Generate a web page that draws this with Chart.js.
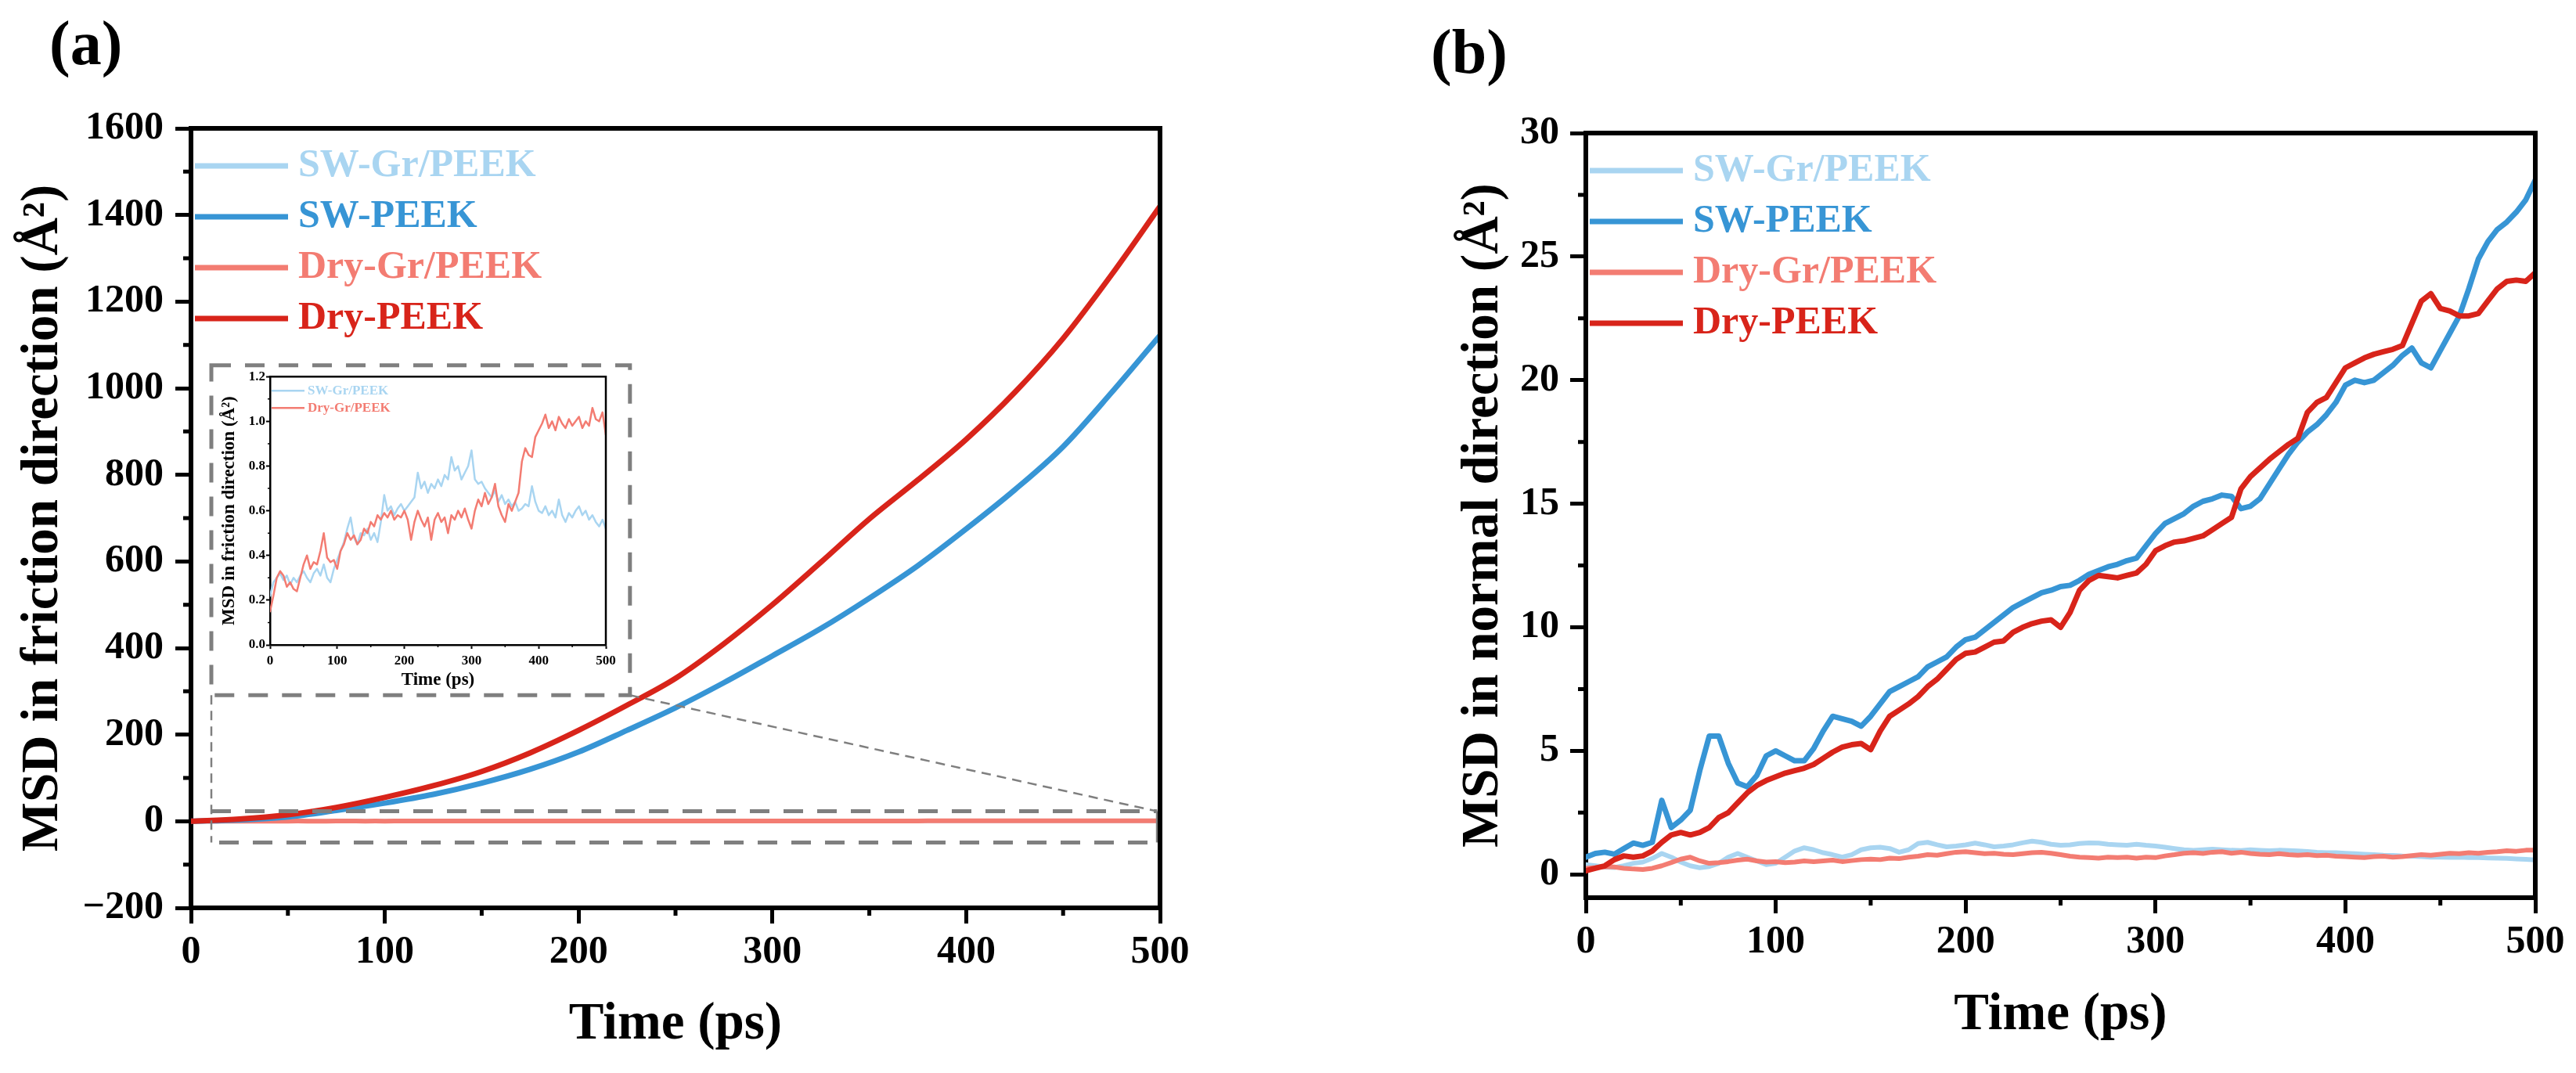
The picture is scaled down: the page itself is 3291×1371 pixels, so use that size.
<!DOCTYPE html>
<html>
<head>
<meta charset="utf-8">
<script src="https://cdn.jsdelivr.net/npm/chart.js@4.4.1/dist/chart.umd.min.js"></script>
<style>
  html, body { margin: 0; padding: 0; background: #fff; }
  #wrap { position: relative; width: 3291px; height: 1371px; overflow: hidden; background: #fff; }
  canvas { position: absolute; }
  #chartA { left: 0; top: 0; width: 1640px; height: 1371px; }
  #chartB { left: 1660px; top: 0; width: 1631px; height: 1371px; }
  #inset { left: 272px; top: 470px; width: 530px; height: 415px; }
</style>
</head>
<body>
<div id="wrap">
  <canvas id="chartA" width="1640" height="1371"></canvas>
  <canvas id="chartB" width="1631" height="1371"></canvas>
  <canvas id="inset" width="530" height="415"></canvas>
</div>
<script>
// series names / colours, in legend order
const seriesNames = ["SW-Gr/PEEK", "SW-PEEK", "Dry-Gr/PEEK", "Dry-PEEK"];
const seriesColors = ["#a9d5f1", "#3795d5", "#f37c72", "#d8241a"];

// time axes (ps)
const timeCoarse = [0, 25, 50, 75, 100, 125, 150, 175, 200, 225, 250, 275, 300, 325, 350, 375, 400, 425, 450, 475, 500];
const timeFine = [0, 5, 10, 15, 20, 25, 30, 35, 40, 45, 50, 55, 60, 65, 70, 75, 80, 85, 90, 95,
  100, 105, 110, 115, 120, 125, 130, 135, 140, 145, 150, 155, 160, 165, 170, 175, 180, 185, 190, 195,
  200, 205, 210, 215, 220, 225, 230, 235, 240, 245, 250, 255, 260, 265, 270, 275, 280, 285, 290, 295,
  300, 305, 310, 315, 320, 325, 330, 335, 340, 345, 350, 355, 360, 365, 370, 375, 380, 385, 390, 395,
  400, 405, 410, 415, 420, 425, 430, 435, 440, 445, 450, 455, 460, 465, 470, 475, 480, 485, 490, 495, 500];

// (a) MSD in friction direction, A^2
const swPeekFriction = [0, 3, 10, 25, 42, 62, 88, 120, 160, 210, 262, 320, 382, 445, 515, 590, 675, 765, 865, 990, 1122];
const dryPeekFriction = [0, 5, 15, 32, 55, 82, 115, 158, 210, 268, 330, 410, 500, 598, 698, 788, 882, 990, 1115, 1262, 1420];
const swGrFriction = [
  0.22, 0.28, 0.30, 0.32, 0.29, 0.31, 0.27, 0.30, 0.28, 0.31,
  0.33, 0.30, 0.28, 0.32, 0.34, 0.31, 0.36, 0.30, 0.28, 0.34,
  0.38, 0.42, 0.46, 0.52, 0.57, 0.48, 0.45, 0.50, 0.49, 0.52,
  0.47, 0.50, 0.46, 0.55, 0.67, 0.60, 0.62, 0.58, 0.61, 0.63,
  0.60, 0.62, 0.64, 0.66, 0.77, 0.70, 0.73, 0.68, 0.72, 0.70,
  0.74, 0.71, 0.76, 0.74, 0.84, 0.78, 0.80, 0.74, 0.77, 0.80,
  0.87, 0.74, 0.72, 0.73, 0.70, 0.68, 0.66, 0.69, 0.64, 0.67,
  0.63, 0.65, 0.62, 0.64, 0.60, 0.61, 0.63, 0.62, 0.71, 0.64,
  0.60, 0.59, 0.62, 0.58, 0.60, 0.57, 0.65, 0.58, 0.55, 0.59,
  0.57, 0.60, 0.62, 0.58, 0.60, 0.56, 0.58, 0.55, 0.53, 0.56,
  0.52];
const dryGrFriction = [
  0.15, 0.22, 0.30, 0.33, 0.31, 0.26, 0.28, 0.25, 0.24, 0.30,
  0.36, 0.40, 0.34, 0.37, 0.36, 0.42, 0.50, 0.39, 0.37, 0.38,
  0.34, 0.42, 0.45, 0.50, 0.47, 0.49, 0.45, 0.47, 0.52, 0.50,
  0.55, 0.53, 0.58, 0.56, 0.59, 0.57, 0.60, 0.56, 0.58, 0.57,
  0.60, 0.56, 0.47, 0.55, 0.60, 0.56, 0.53, 0.57, 0.47, 0.56,
  0.59, 0.55, 0.57, 0.50, 0.58, 0.56, 0.60, 0.57, 0.61, 0.56,
  0.52, 0.60, 0.65, 0.62, 0.68, 0.63, 0.66, 0.72, 0.62, 0.58,
  0.55, 0.63, 0.60, 0.64, 0.68, 0.82, 0.88, 0.85, 0.84, 0.93,
  0.96, 0.99, 1.03, 0.97, 1.00, 0.96, 1.02, 0.99, 0.97, 1.01,
  0.98, 1.00, 1.02, 0.97, 1.00, 0.98, 1.06, 1.01, 1.00, 1.04,
  0.94];

// (b) MSD in normal direction, A^2
const swPeekNormal = [
  0.70, 0.85, 0.90, 0.82, 1.05, 1.27, 1.18, 1.30, 3.00, 1.90,
  2.20, 2.60, 4.20, 5.60, 5.60, 4.50, 3.70, 3.55, 4.00, 4.80,
  5.00, 4.80, 4.60, 4.60, 5.10, 5.80, 6.40, 6.30, 6.20, 6.00,
  6.40, 6.90, 7.40, 7.60, 7.80, 8.00, 8.40, 8.60, 8.80, 9.20,
  9.50, 9.60, 9.90, 10.20, 10.50, 10.80, 11.00, 11.20, 11.40, 11.50,
  11.65, 11.70, 11.90, 12.15, 12.30, 12.45, 12.55, 12.70, 12.80, 13.30,
  13.80, 14.20, 14.40, 14.60, 14.90, 15.10, 15.20, 15.35, 15.30, 14.80,
  14.90, 15.20, 15.80, 16.40, 17.00, 17.50, 17.90, 18.20, 18.60, 19.10,
  19.80, 20.00, 19.90, 20.00, 20.30, 20.60, 21.00, 21.30, 20.70, 20.50,
  21.20, 21.90, 22.60, 23.70, 24.90, 25.60, 26.10, 26.40, 26.80, 27.30,
  28.10];
const dryPeekNormal = [
  0.15, 0.25, 0.35, 0.60, 0.75, 0.70, 0.75, 0.95, 1.30, 1.60,
  1.70, 1.60, 1.70, 1.90, 2.30, 2.50, 2.90, 3.30, 3.60, 3.80,
  3.95, 4.10, 4.20, 4.30, 4.45, 4.70, 4.95, 5.15, 5.25, 5.30,
  5.05, 5.80, 6.40, 6.65, 6.90, 7.20, 7.60, 7.90, 8.30, 8.70,
  8.95, 9.00, 9.20, 9.40, 9.45, 9.80, 10.00, 10.15, 10.25, 10.30,
  10.00, 10.60, 11.50, 11.90, 12.10, 12.05, 12.00, 12.10, 12.20, 12.55,
  13.10, 13.30, 13.45, 13.50, 13.60, 13.70, 13.95, 14.20, 14.45, 15.60,
  16.10, 16.45, 16.80, 17.10, 17.40, 17.65, 18.70, 19.10, 19.30, 19.90,
  20.50, 20.70, 20.90, 21.05, 21.15, 21.25, 21.40, 22.30, 23.20, 23.50,
  22.90, 22.80, 22.60, 22.60, 22.70, 23.20, 23.70, 24.00, 24.05, 24.00,
  24.35];
const swGrNormal = [
  0.40, 0.35, 0.30, 0.28, 0.35, 0.45, 0.50, 0.65, 0.85, 0.70,
  0.50, 0.35, 0.27, 0.32, 0.45, 0.70, 0.85, 0.70, 0.55, 0.40,
  0.45, 0.70, 0.95, 1.08, 1.00, 0.88, 0.80, 0.70, 0.80, 1.00,
  1.08, 1.10, 1.05, 0.90, 1.00, 1.25, 1.30, 1.20, 1.12, 1.15,
  1.20, 1.27, 1.20, 1.12, 1.15, 1.20, 1.28, 1.35, 1.30, 1.22,
  1.18, 1.20, 1.25, 1.28, 1.27, 1.22, 1.20, 1.18, 1.22, 1.18,
  1.15, 1.10, 1.05, 1.00, 0.98, 1.00, 1.02, 1.00, 0.98, 0.97,
  1.00, 0.98, 0.96, 0.98, 0.97, 0.95, 0.93, 0.90, 0.88, 0.88,
  0.86, 0.84, 0.82, 0.80, 0.78, 0.77, 0.75, 0.74, 0.72, 0.70,
  0.70, 0.69, 0.70, 0.68, 0.68, 0.67, 0.66, 0.65, 0.63, 0.61,
  0.59];
const dryGrNormal = [
  0.25, 0.28, 0.32, 0.30, 0.25, 0.22, 0.20, 0.25, 0.35, 0.48,
  0.62, 0.70, 0.55, 0.45, 0.48, 0.52, 0.58, 0.62, 0.55, 0.50,
  0.52, 0.48, 0.50, 0.55, 0.52, 0.55, 0.58, 0.52, 0.56, 0.60,
  0.62, 0.60, 0.66, 0.64, 0.70, 0.74, 0.80, 0.78, 0.84, 0.90,
  0.92, 0.88, 0.84, 0.86, 0.82, 0.80, 0.84, 0.88, 0.90, 0.86,
  0.80, 0.74, 0.70, 0.68, 0.66, 0.70, 0.68, 0.70, 0.66, 0.70,
  0.68, 0.75, 0.80, 0.86, 0.88, 0.85, 0.90, 0.92, 0.86, 0.90,
  0.85, 0.82, 0.80, 0.84, 0.80, 0.78, 0.80, 0.76, 0.78, 0.74,
  0.72, 0.70, 0.68, 0.72, 0.74, 0.70, 0.72, 0.76, 0.80, 0.78,
  0.82, 0.86, 0.84, 0.88, 0.86, 0.90, 0.92, 0.96, 0.94, 0.98,
  0.98];

const FONT = "'Liberation Serif', 'Times New Roman', serif";
Chart.defaults.font.family = FONT;
Chart.defaults.color = "#000";

const pts = (xs, ys) => xs.map((x, i) => ({ x: x, y: ys[i] }));

// red on top, then blue, salmon, light blue
const drawOrder = [3, 1, 2, 0];

const lineSet = (i, xs, ys, width, smooth) => ({
  label: seriesNames[i],
  data: pts(xs, ys),
  borderColor: seriesColors[i],
  backgroundColor: seriesColors[i],
  borderWidth: width,
  pointRadius: 0,
  tension: 0,
  cubicInterpolationMode: smooth ? "monotone" : "default",
  order: drawOrder[i],
});

const minus = (v) => (v < 0 ? "\u2212" + Math.abs(v) : String(v));

const axis = (o) => ({
  type: "linear",
  min: o.min,
  max: o.max,
  afterFit: (s) => {
    if (o.w) s.width = o.w;
    if (o.h) s.height = o.h;
  },
  border: { display: true, width: o.bw, color: "#000" },
  grid: { display: true, drawOnChartArea: false, drawTicks: true, tickLength: o.tl, tickWidth: o.tw, tickColor: "#000" },
  ticks: {
    stepSize: o.step,
    padding: o.pad,
    color: "#000",
    includeBounds: false,
    autoSkip: false,
    maxRotation: 0,
    font: { family: FONT, weight: "bold", size: o.fs },
    callback: o.fmt || minus,
  },
  title: {
    display: true,
    text: o.title,
    color: "#000",
    font: { family: FONT, weight: "bold", size: o.ts, lineHeight: 1 },
    padding: o.h ? { top: 0, bottom: o.tpad } : { top: o.tpad, bottom: 0 },
  },
});

function drawGuides(ctx, xs, ys, g) {
  const X = (v) => xs.getPixelForValue(v);
  const Y = (v) => ys.getPixelForValue(v);
  const b = g.box, z = g.band;
  ctx.strokeStyle = "#7f7f7f";
  ctx.lineCap = "butt";
  // heavy dashed frame round the inset
  ctx.lineWidth = 5;
  ctx.setLineDash([25, 18]);
  ctx.strokeRect(X(b[0]), Y(b[3]), X(b[1]) - X(b[0]), Y(b[2]) - Y(b[3]));
  // heavy dashed lines above and below the zero band
  ctx.beginPath();
  ctx.moveTo(X(z[0]), Y(z[3]));
  ctx.lineTo(X(z[1]), Y(z[3]));
  ctx.moveTo(X(z[0]) + 10, Y(z[2]));
  ctx.lineTo(X(z[1]), Y(z[2]));
  ctx.stroke();
  // thin connectors
  ctx.lineWidth = 2.5;
  ctx.setLineDash([12, 8]);
  ctx.beginPath();
  ctx.moveTo(X(b[1]), Y(b[2]));
  ctx.lineTo(X(z[1]), Y(z[3]));
  ctx.moveTo(X(b[0]), Y(b[2]));
  ctx.lineTo(X(z[0]), Y(z[2]));
  ctx.stroke();
  ctx.setLineDash([]);
  ctx.lineWidth = 3;
  ctx.beginPath();
  ctx.moveTo(X(z[1]), Y(z[2]));
  ctx.lineTo(X(z[1]), Y(z[3]));
  ctx.stroke();
}

const decor = {
  id: "decor",
  afterDatasetsDraw(chart, args, o) {
    if (!o.guides) return;
    const ctx = chart.ctx;
    ctx.save();
    drawGuides(ctx, chart.scales.x, chart.scales.y, o.guides);
    ctx.restore();
  },
  afterDraw(chart, args, o) {
    const ctx = chart.ctx;
    const a = chart.chartArea;
    const xs = chart.scales.x, ys = chart.scales.y;
    ctx.save();
    ctx.setLineDash([]);
    ctx.lineCap = "butt";
    // top and right side of the frame
    ctx.strokeStyle = "#000";
    ctx.lineWidth = o.frame;
    ctx.beginPath();
    ctx.moveTo(a.left - o.frame / 2, a.top);
    ctx.lineTo(a.right, a.top);
    ctx.lineTo(a.right, a.bottom + o.frame / 2);
    ctx.stroke();
    // minor ticks
    ctx.lineWidth = o.minorWidth;
    ctx.beginPath();
    o.minorX.forEach((v) => {
      const p = xs.getPixelForValue(v);
      ctx.moveTo(p, a.bottom);
      ctx.lineTo(p, a.bottom + o.minorLen);
    });
    o.minorY.forEach((v) => {
      const p = ys.getPixelForValue(v);
      ctx.moveTo(a.left, p);
      ctx.lineTo(a.left - o.minorLen, p);
    });
    ctx.stroke();
    // legend
    const L = o.legend;
    ctx.font = "bold " + L.size + "px " + FONT;
    ctx.textBaseline = "middle";
    ctx.textAlign = "left";
    L.order.forEach((di, k) => {
      const ds = chart.data.datasets[di];
      const y = a.top + L.y + L.gap * k;
      ctx.strokeStyle = ds.borderColor;
      ctx.lineWidth = L.lw || ds.borderWidth;
      ctx.beginPath();
      ctx.moveTo(a.left + L.x0, y);
      ctx.lineTo(a.left + L.x1, y);
      ctx.stroke();
      ctx.fillStyle = ds.borderColor;
      ctx.fillText(ds.label, a.left + L.tx, y);
    });
    // panel tag
    if (o.tag) {
      ctx.fillStyle = "#000";
      ctx.font = "bold " + o.tag.size + "px " + FONT;
      ctx.fillText(o.tag.text, o.tag.x, o.tag.y);
    }
    ctx.restore();
  },
};

const base = (pad, decorOpts, scales) => ({
  responsive: false,
  devicePixelRatio: 1,
  animation: false,
  events: [],
  layout: { padding: pad },
  plugins: { legend: { display: false }, tooltip: { enabled: false }, decor: decorOpts },
  elements: { line: { borderJoinStyle: "round", borderCapStyle: "round" } },
  scales: scales,
});

const bigLegend = { order: [0, 1, 2, 3], x0: 5, x1: 124, tx: 137, y: 48, gap: 65, size: 50, lw: 7 };

// panel (a)
new Chart(document.getElementById("chartA"), {
  type: "line",
  data: {
    datasets: [
      lineSet(0, timeFine, swGrFriction, 5),
      lineSet(1, timeCoarse, swPeekFriction, 7, true),
      lineSet(2, timeFine, dryGrFriction, 6),
      lineSet(3, timeCoarse, dryPeekFriction, 7, true),
    ],
  },
  options: base(
    { left: 0, top: 164, right: 158, bottom: 0 },
    {
      frame: 6, minorWidth: 5, minorLen: 10,
      minorX: [50, 150, 250, 350, 450],
      minorY: [-100, 100, 300, 500, 700, 900, 1100, 1300, 1500],
      legend: bigLegend,
      tag: { text: "(a)", x: 63, y: 61, size: 80 },
      guides: { box: [10.5, 226.5, 291, 1053], band: [10.5, 498.5, -49, 23] },
    },
    {
      x: axis({ min: 0, max: 500, step: 100, h: 211, bw: 6, tl: 20, tw: 5, pad: 7, fs: 50, ts: 67, tpad: 28, title: "Time (ps)" }),
      y: axis({ min: -200, max: 1600, step: 200, w: 244, bw: 6, tl: 20, tw: 5, pad: 15, fs: 50, ts: 67, tpad: 22, title: "MSD in friction direction (\u00c5\u00b2)" }),
    }
  ),
  plugins: [decor],
});

// inset of (a): the two Gr/PEEK runs on their own scale
new Chart(document.getElementById("inset"), {
  type: "line",
  data: {
    datasets: [
      lineSet(0, timeFine, swGrFriction, 2.5),
      lineSet(2, timeFine, dryGrFriction, 2.5),
    ],
  },
  options: base(
    { left: 0, top: 8, right: 28, bottom: 0 },
    {
      frame: 2.5, minorWidth: 1.5, minorLen: 3,
      minorX: [50, 150, 250, 350, 450],
      minorY: [0.1, 0.3, 0.5, 0.7, 0.9, 1.1],
      legend: { order: [0, 1], x0: 2, x1: 44, tx: 48, y: 18, gap: 22, size: 17 },
    },
    {
      x: axis({ min: 0, max: 500, step: 100, h: 61, bw: 2.5, tl: 5, tw: 2, pad: 5, fs: 17, ts: 23, tpad: 4, title: "Time (ps)" }),
      y: axis({ min: 0, max: 1.2, step: 0.2, w: 73, bw: 2.5, tl: 5, tw: 2, pad: 1, fs: 17, ts: 23, tpad: 10, title: "MSD in friction direction (\u00c5\u00b2)", fmt: (v) => v.toFixed(1) }),
    }
  ),
  plugins: [decor],
});

// panel (b)
new Chart(document.getElementById("chartB"), {
  type: "line",
  data: {
    datasets: [
      lineSet(0, timeFine, swGrNormal, 6),
      lineSet(1, timeFine, swPeekNormal, 7),
      lineSet(2, timeFine, dryGrNormal, 6),
      lineSet(3, timeFine, dryPeekNormal, 7),
    ],
  },
  options: base(
    { left: 170, top: 170, right: 52, bottom: 0 },
    {
      frame: 6, minorWidth: 5, minorLen: 10,
      minorX: [50, 150, 250, 350, 450],
      minorY: [2.5, 7.5, 12.5, 17.5, 22.5, 27.5],
      legend: bigLegend,
      tag: { text: "(b)", x: 168, y: 72, size: 80 },
    },
    {
      x: axis({ min: 0, max: 500, step: 100, h: 224, bw: 6, tl: 20, tw: 5, pad: 7, fs: 50, ts: 67, tpad: 40, title: "Time (ps)" }),
      y: axis({ min: -0.94, max: 30, step: 5, w: 196, bw: 6, tl: 20, tw: 5, pad: 14, fs: 50, ts: 67, tpad: 32, title: "MSD in normal direction (\u00c5\u00b2)" }),
    }
  ),
  plugins: [decor],
});
</script>
</body>
</html>
